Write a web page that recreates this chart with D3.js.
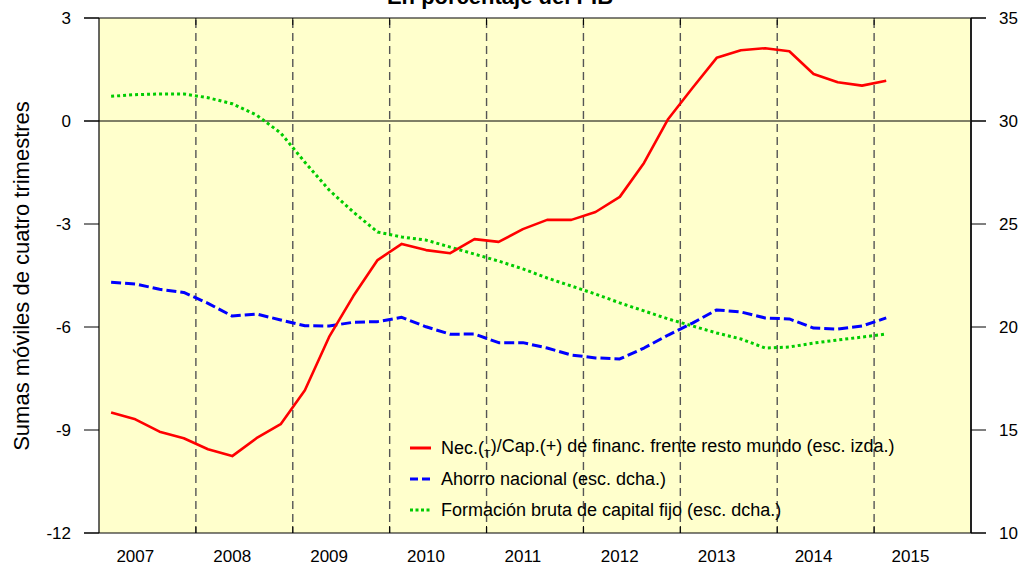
<!DOCTYPE html>
<html>
<head>
<meta charset="utf-8">
<script src="https://cdn.jsdelivr.net/npm/d3@7"></script>
<style>
  body { margin: 0; background: #fff; }
  text { font-family: Arial, "Liberation Sans", sans-serif; fill: #000; }
</style>
</head>
<body>
<div id="chart"></div>
<script>
// quarters 2007Q1 .. 2015Q1
var quarters = d3.range(33).map(function(i) { return (2007 + Math.floor(i / 4)) + "Q" + (i % 4 + 1) })

// Nec./Cap. de financiacion (left scale)
var necesidad = [-8.49, -8.69, -9.05, -9.24, -9.56, -9.76, -9.24, -8.83,
                 -7.84, -6.29, -5.10, -4.05, -3.58, -3.76, -3.85, -3.44,
                 -3.52, -3.15, -2.88, -2.88, -2.65, -2.21, -1.22, 0.06,
                  0.96, 1.84, 2.06, 2.12, 2.03, 1.37, 1.13, 1.03, 1.17]

// Ahorro nacional (right scale)
var ahorro = [22.17, 22.09, 21.83, 21.68, 21.15, 20.53, 20.63, 20.34,
              20.06, 20.05, 20.23, 20.26, 20.47, 20.01, 19.65, 19.66,
              19.24, 19.24, 18.98, 18.64, 18.50, 18.45, 18.98, 19.61,
              20.19, 20.83, 20.73, 20.44, 20.39, 19.95, 19.90, 20.05, 20.44]

// Formacion bruta de capital fijo (right scale)
var fbcf = [31.20, 31.28, 31.31, 31.31, 31.13, 30.84, 30.29, 29.42,
            28.00, 26.65, 25.58, 24.61, 24.37, 24.22, 23.88, 23.54,
            23.20, 22.82, 22.38, 21.99, 21.60, 21.17, 20.78, 20.39,
            20.05, 19.71, 19.42, 18.98, 19.03, 19.22, 19.37, 19.51, 19.66]

var years = [2007, 2008, 2009, 2010, 2011, 2012, 2013, 2014, 2015]
var leftTicks = [3, 0, -3, -6, -9, -12]
var rightTicks = [35, 30, 25, 20, 15, 10]

var series = [
  {name: "Ahorro nacional (esc. dcha.)", values: ahorro, axis: "right", color: "#0000ff", dash: "10,4", width: 3},
  {name: "Formación bruta de capital fijo (esc. dcha.)", values: fbcf, axis: "right", color: "#00cc00", dash: "3,3", width: 3},
  {name: "Nec.(-)/Cap.(+) de financ. frente resto mundo (esc. izda.)", values: necesidad, axis: "left", color: "#ff0000", dash: null, width: 2.6}
]

var width = 1023, height = 564
var pLeft = 99, pRight = 971, pTop = 18, pBottom = 533

var svg = d3.select("#chart").append("svg")
  .attr("width", width)
  .attr("height", height)

var x = d3.scaleLinear().domain([2007, 2016]).range([pLeft, pRight])
var yL = d3.scaleLinear().domain([-12, 3]).range([pBottom, pTop])
var yR = d3.scaleLinear().domain([10, 35]).range([pBottom, pTop])

var xq = function(i) { return x(2007.125 + i * 0.25) }

// background
svg.append("rect")
  .attr("x", pLeft).attr("y", pTop)
  .attr("width", pRight - pLeft).attr("height", pBottom - pTop)
  .attr("fill", "#ffffcc")

// year separators
svg.append("g")
  .selectAll("line")
  .data(years.slice(1))
  .join("line")
    .attr("x1", d => x(d)).attr("x2", d => x(d))
    .attr("y1", pTop + 2).attr("y2", pBottom)
    .attr("stroke", "#555")
    .attr("stroke-width", 1.4)
    .attr("stroke-dasharray", "8,5")

// small ticks on top and bottom
svg.append("g")
  .selectAll("line")
  .data(years.slice(1))
  .join("line")
    .attr("x1", d => x(d)).attr("x2", d => x(d))
    .attr("y1", pBottom).attr("y2", pBottom - 7)
    .attr("stroke", "#000")
svg.append("g")
  .selectAll("line")
  .data(years.slice(1))
  .join("line")
    .attr("x1", d => x(d)).attr("x2", d => x(d))
    .attr("y1", pTop).attr("y2", pTop + 7)
    .attr("stroke", "#000")

// zero line
svg.append("line")
  .attr("x1", pLeft - 15).attr("x2", pRight + 15)
  .attr("y1", yL(0)).attr("y2", yL(0))
  .attr("stroke", "#000").attr("stroke-width", 1)

// series
series.forEach(function(s) {
  var y = s.axis == "left" ? yL : yR
  var line = d3.line()
    .x(function(d, i) { return xq(i) })
    .y(function(d) { return y(d) })
  svg.append("path")
    .datum(s.values)
    .attr("fill", "none")
    .attr("stroke", s.color)
    .attr("stroke-width", s.width)
    .attr("stroke-dasharray", s.dash)
    .attr("stroke-linejoin", "round")
    .attr("d", line)
})

// frame
svg.append("line").attr("x1", pLeft).attr("x2", pLeft).attr("y1", pTop).attr("y2", pBottom)
  .attr("stroke", "#000").attr("stroke-width", 1.2)
svg.append("line").attr("x1", pRight).attr("x2", pRight).attr("y1", pTop).attr("y2", pBottom)
  .attr("stroke", "#222").attr("stroke-width", 2)
svg.append("line").attr("x1", pLeft - 15).attr("x2", pRight + 15).attr("y1", pTop).attr("y2", pTop)
  .attr("stroke", "#000").attr("stroke-width", 1.2)
svg.append("line").attr("x1", pLeft - 15).attr("x2", pRight + 15).attr("y1", pBottom).attr("y2", pBottom)
  .attr("stroke", "#000").attr("stroke-width", 1.2)

// left axis
svg.append("g")
  .selectAll("line")
  .data(leftTicks)
  .join("line")
    .attr("x1", pLeft - 15).attr("x2", pLeft)
    .attr("y1", d => yL(d)).attr("y2", d => yL(d))
    .attr("stroke", "#000")
svg.append("g")
  .selectAll("text")
  .data(leftTicks)
  .join("text")
    .attr("x", 71)
    .attr("y", d => yL(d))
    .attr("dy", "0.35em")
    .attr("text-anchor", "end")
    .attr("font-size", 17)
    .text(d => d)

// right axis
svg.append("g")
  .selectAll("line")
  .data(rightTicks)
  .join("line")
    .attr("x1", pRight).attr("x2", pRight + 15)
    .attr("y1", d => yR(d)).attr("y2", d => yR(d))
    .attr("stroke", "#000")
svg.append("g")
  .selectAll("text")
  .data(rightTicks)
  .join("text")
    .attr("x", 999)
    .attr("y", d => yR(d))
    .attr("dy", "0.35em")
    .attr("font-size", 17)
    .text(d => d)

// year labels
svg.append("g")
  .selectAll("text")
  .data(years)
  .join("text")
    .attr("x", d => x(d + 0.375))
    .attr("y", 562)
    .attr("text-anchor", "middle")
    .attr("font-size", 17)
    .text(d => d)

// title (cut at top)
svg.append("text")
  .attr("x", 500).attr("y", 4)
  .attr("text-anchor", "middle")
  .attr("font-size", 22)
  .attr("font-weight", "bold")
  .text("En porcentaje del PIB")

// y label
svg.append("text")
  .attr("transform", "translate(29," + 276 + ") rotate(-90)")
  .attr("text-anchor", "middle")
  .attr("font-size", 22)
  .text("Sumas móviles de cuatro trimestres")

// legend
var legendOrder = [series[2], series[0], series[1]]
var lg = svg.append("g")
legendOrder.forEach(function(s, i) {
  var ly = 448 + i * 31
  lg.append("line")
    .attr("x1", 410).attr("x2", 431)
    .attr("y1", ly).attr("y2", ly)
    .attr("stroke", s.color)
    .attr("stroke-width", 3)
    .attr("stroke-dasharray", s.dash ? (s.dash == "3,3" ? "3,2.5" : "8,4") : null)
  var t = lg.append("text")
    .attr("x", 441).attr("y", ly)
    .attr("dy", "0.35em")
    .attr("font-size", 18)
  if (i == 0) {
    t.append("tspan").text("Nec.(")
    t.append("tspan").attr("font-size", 11).attr("dy", "0.3em").text("T")
    t.append("tspan").attr("dy", "-0.3em").text(")/Cap.(+) de financ. frente resto mundo (esc. izda.)")
  } else {
    t.text(s.name)
  }
})
</script>
</body>
</html>
